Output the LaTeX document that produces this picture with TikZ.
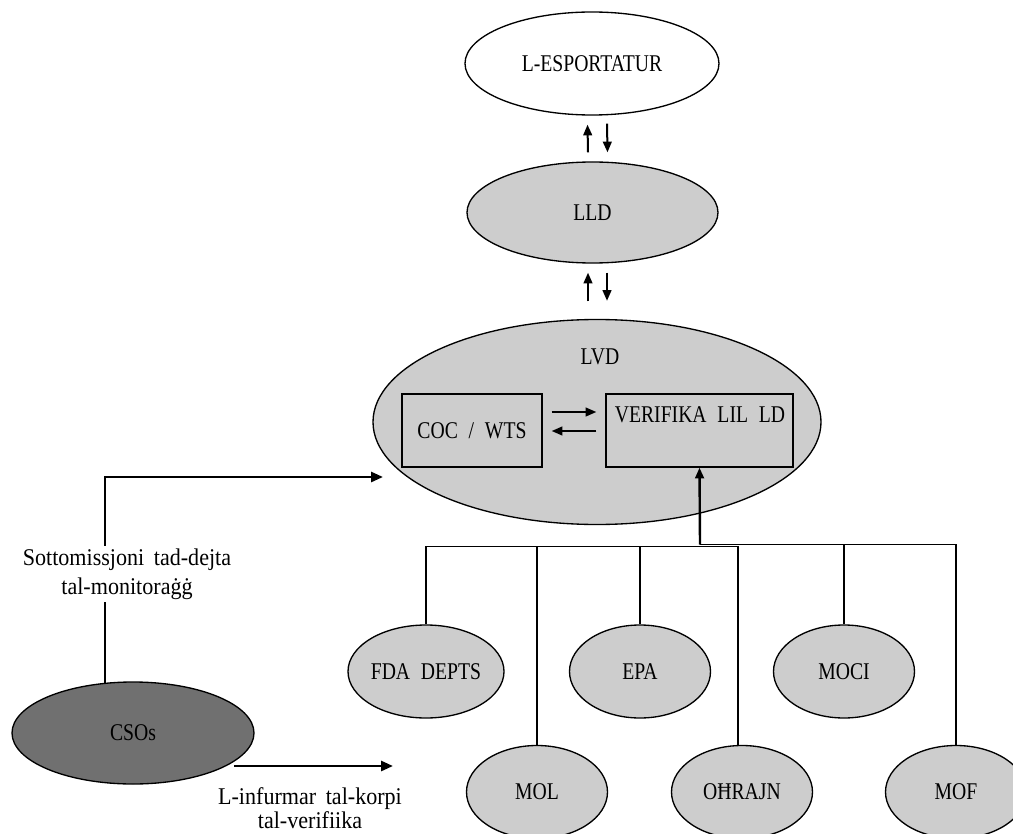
\documentclass[tikz,border=0pt]{standalone}
\usepackage{fontspec}
\setmainfont{Liberation Serif}
\newfontfamily\capfont[FakeStretch=0.82]{Liberation Serif}
\newfontfamily\lowfont[FakeStretch=0.92]{Liberation Serif}
\usetikzlibrary{shapes.geometric,arrows.meta,calc}
\definecolor{lightfill}{RGB}{205,205,205}
\definecolor{darkfill}{RGB}{112,112,112}
\begin{document}
\begin{tikzpicture}[x=0.75pt,y=-0.75pt,
  sz/.style 2 args={minimum width=#1*0.75pt, minimum height=#2*0.75pt},
  ell/.style={ellipse, draw, line width=1pt, inner sep=0pt, font=\capfont\fontsize{18}{20}\selectfont},
  captext/.style={font=\capfont\fontsize{18}{20}\selectfont, inner sep=0pt},
  lbl/.style={font=\lowfont\fontsize{18}{#1}\selectfont, align=center, inner sep=0pt},
  box/.style={rectangle, draw, line width=1pt, inner sep=0pt},
  arr/.style={line width=1.5pt, -{Triangle[length=8pt,width=6.5pt]}},
  big/.style={line width=2pt, -{Triangle[length=9pt,width=7.5pt]}},
  bus/.style={line width=1.1pt}]
\useasboundingbox (0,0) rectangle (1013,834);

% upper chain
\node[ell, fill=white, sz={254}{103}] (esp) at (592,63.5) {L-ESPORTATUR};
\node[ell, fill=lightfill, sz={251}{101}] (lld) at (592.5,212.5) {LLD};
\node[ell, fill=lightfill, sz={448}{205}] (lvd) at (597,422) {};
\node[captext] (lvdt) at (600,357) {LVD};
\node[box, captext, sz={140}{73}] (coc) at (472,430.5) {COC\hspace{.45em}/\hspace{.45em}WTS};
\node[box, sz={187}{73}] (ver) at (699.5,430.5) {};
\node[captext] (vert) at (700,415) {VERIFIKA\hspace{.45em}LIL\hspace{.45em}LD};

\draw[arr] ($(lld.north)+(-4.5,-9)$) -- ($(esp.south)+(-4.5,9)$);
\draw[arr] ($(esp.south)+(15,8)$) -- ($(lld.north)+(15,-9)$);
\draw[arr] ($(lvd.north)+(-9,-17.5)$) -- ($(lld.south)+(-4.5,9)$);
\draw[arr] ($(lld.south)+(14.5,9)$) -- ($(lvd.north)+(10,-18)$);

\draw[arr] ($(coc.east)+(9,-18.5)$) -- ($(ver.west)+(-9,-18.5)$);
\draw[arr] ($(ver.west)+(-9,0.5)$) -- ($(coc.east)+(9,0.5)$);

% lower agencies
\node[ell, fill=lightfill, sz={141}{93}] (fda) at (426,671.5) {FDA\hspace{.45em}DEPTS};
\node[ell, fill=lightfill, sz={141}{93}] (epa) at (640,671.5) {EPA};
\node[ell, fill=lightfill, sz={141}{93}] (moci) at (844,671.5) {MOCI};
\node[ell, fill=lightfill, sz={141}{93}] (mol) at (537,792) {MOL};
\node[ell, fill=lightfill, sz={141}{93}] (ohr) at (742,792) {OĦRAJN};
\node[ell, fill=lightfill, sz={141}{93}] (mof) at (956,792) {MOF};

\coordinate (busA) at (426,546.5);
\coordinate (busB) at (738,546.5);
\coordinate (busC) at (700,544.5);
\coordinate (busD) at (956,544.5);

\draw[bus] (fda.north) -- (busA) -- (busB) -- (busB |- ohr.north);
\draw[bus] (mol.north) -- (mol.north |- busA);
\draw[bus] (epa.north) -- (epa.north |- busA);
\draw[bus] (busC) -- (busD) -- (mof.north);
\draw[bus] (moci.north) -- (moci.north |- busC);
\draw[arr, line width=1.8pt] (busC) -- (ver.south);

% CSOs
\node[ell, fill=darkfill, sz={242}{102}] (cso) at (133,733) {CSOs};
\coordinate (lvdin) at (383,477);
\coordinate (infend) at (393,766);
\draw[big] ($(cso.north)+(-28,1.5)$) |- (lvdin);
\node[lbl=21.75pt, fill=white, inner sep=2pt] (sotto) at (127,574) {Sottomissjoni\hspace{.4em}tad-dejta\\tal-monitoraġġ};
\draw[big] ($(cso.center)+(101,33)$) -- (infend);
\node[lbl=16.5pt] (inf) at (310,808) {L-infurmar\hspace{.4em}tal-korpi\\tal-verifiika};
\end{tikzpicture}
\end{document}
